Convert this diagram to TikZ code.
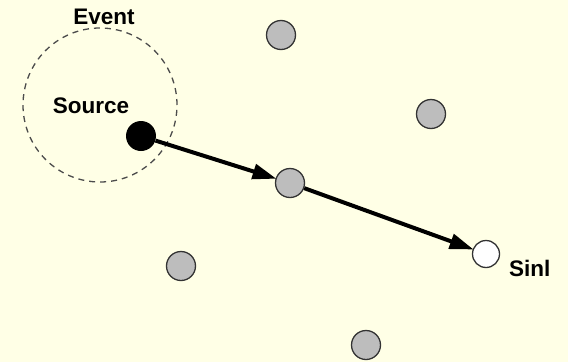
\documentclass[tikz,border=0pt]{standalone}
\usepackage{fontspec}
\setmainfont{Liberation Sans}
\usetikzlibrary{arrows.meta}
\definecolor{bg}{HTML}{FFFFE6}
\definecolor{nodegray}{HTML}{BDBDBD}
\begin{document}
\begin{tikzpicture}[x=1pt,y=-1pt,
  sensor/.style={circle,draw=black!80,line width=1.3pt,fill=nodegray,minimum size=29pt,inner sep=0pt},
  lbl/.style={font=\fontsize{22.5}{26}\selectfont\bfseries,inner sep=0pt},
  flow/.style={line width=4pt,-{Triangle[length=24pt,width=15pt]},shorten >=-1pt}]
\fill[bg] (0,0) rectangle (568,362);
\useasboundingbox (0,0) rectangle (568,362);
\node[circle,draw=black!70,dashed,line width=1.3pt,minimum size=154pt,inner sep=0pt,dash pattern=on 6pt off 5pt] (event) at (100,105) {};
\node[lbl] (eventlbl) at (104,17) {Event};
\node[lbl] (sourcelbl) at (91,106) {Source};
\node[circle,fill=black,minimum size=30pt,inner sep=0pt] (src) at (141,136) {};
\node[sensor] (n1) at (281,35) {};
\node[sensor] (n2) at (431,114) {};
\node[sensor] (n3) at (290,183) {};
\node[sensor] (n4) at (181,266) {};
\node[sensor] (n5) at (366,345) {};
\node[circle,draw=black!80,line width=1.3pt,fill=white,minimum size=27pt,inner sep=0pt] (sink) at (486,254) {};
\node[lbl,anchor=west] (sinklbl) at (509,268) {Sinl};
\draw[flow] (src) -- (n3);
\draw[flow] (n3) -- (sink);
\end{tikzpicture}
\end{document}
